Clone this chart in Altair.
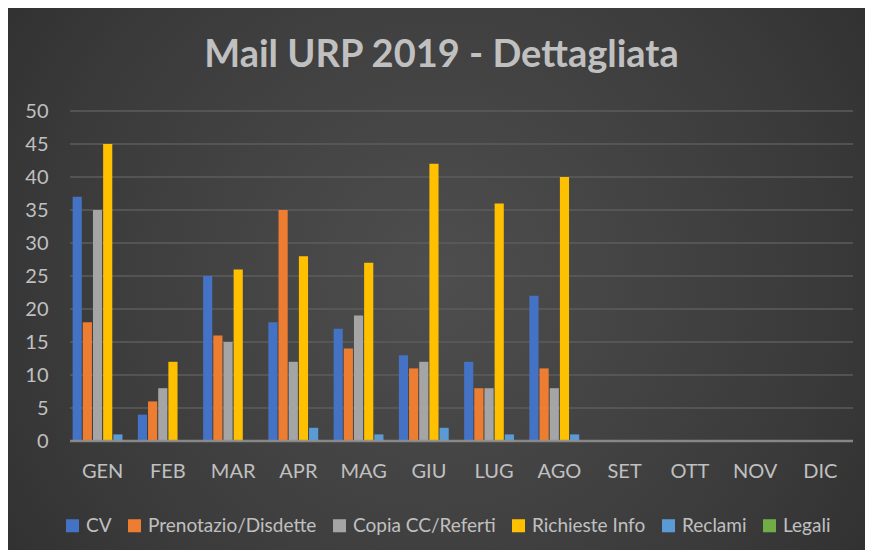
import altair as alt
import pandas as pd

months = ["GEN", "FEB", "MAR", "APR", "MAG", "GIU", "LUG", "AGO", "SET", "OTT", "NOV", "DIC"]
series = ["CV", "Prenotazio/Disdette", "Copia CC/Referti", "Richieste Info", "Reclami", "Legali"]
cv = [37, 4, 25, 18, 17, 13, 12, 22, 0, 0, 0, 0]
prenotazioni = [18, 6, 16, 35, 14, 11, 8, 11, 0, 0, 0, 0]
copia = [35, 8, 15, 12, 19, 12, 8, 8, 0, 0, 0, 0]
richieste = [45, 12, 26, 28, 27, 42, 36, 40, 0, 0, 0, 0]
reclami = [1, 0, 0, 2, 1, 2, 1, 1, 0, 0, 0, 0]
legali = [0, 0, 0, 0, 0, 0, 0, 0, 0, 0, 0, 0]
colors = ["#4472C4", "#ED7D31", "#A5A5A5", "#FFC000", "#5B9BD5", "#70AD47"]
y_ticks = [0, 5, 10, 15, 20, 25, 30, 35, 40, 45, 50]

values = [cv, prenotazioni, copia, richieste, reclami, legali]
rows = []
for s, vals in zip(series, values):
    for m, v in zip(months, vals):
        rows.append({"month": m, "series": s, "value": v})
df = pd.DataFrame(rows)

W, H = 783, 330
PAD = {"left": 62, "top": 103, "right": 12, "bottom": 109}
FONT = "Lato"
TXT = "#c0c0c0"

yscale = alt.Scale(domain=[0, 50], nice=False)
yaxis = alt.Axis(values=y_ticks, labelFont=FONT, labelFontSize=20, labelColor=TXT,
                 labelPadding=22, ticks=False, domain=False, grid=False, zindex=1)

bg = alt.Chart(pd.DataFrame({"k": [0]})).mark_rect(
    fill=alt.Gradient(
        gradient="radial",
        stops=[alt.GradientStop(color="#4e4e4e", offset=0),
               alt.GradientStop(color="#3a3a3a", offset=0.6),
               alt.GradientStop(color="#282828", offset=1)],
        x1=0.5, y1=0.5, r1=0, x2=0.5, y2=0.5, r2=0.75,
    ),
    clip=False,
).encode(
    x=alt.value(-PAD["left"]), x2=alt.value(W + PAD["right"]),
    y=alt.value(-PAD["top"]), y2=alt.value(H + PAD["bottom"]),
)

grid = alt.Chart(pd.DataFrame({"v": y_ticks[1:]})).mark_rule(
    color="#5c5c5c", strokeWidth=1.5
).encode(y=alt.Y("v:Q", scale=yscale, axis=yaxis, title=None))

bars = alt.Chart(df).mark_bar().encode(
    x=alt.X("month:N", sort=months, title=None,
            scale=alt.Scale(paddingInner=0.08, paddingOuter=0.04),
            axis=alt.Axis(labelAngle=0, labelFont=FONT, labelFontSize=20, labelColor=TXT,
                          labelPadding=20, ticks=False, domain=False, grid=False, zindex=1)),
    xOffset=alt.XOffset("series:N", sort=series, scale=alt.Scale(paddingInner=0.1)),
    y=alt.Y("value:Q", scale=yscale, title=None, axis=yaxis),
    color=alt.Color("series:N", sort=series,
                    scale=alt.Scale(domain=series, range=colors),
                    legend=alt.Legend(title=None, orient="none", legendX=-7, legendY=405,
                                      direction="horizontal", columns=6,
                                      symbolType="square", symbolSize=170, symbolStrokeWidth=0,
                                      labelFont=FONT, labelFontSize=19, labelColor=TXT,
                                      labelLimit=0, labelOffset=4, columnPadding=13, zindex=1)),
)

zero = alt.Chart(pd.DataFrame({"v": [0]})).mark_rule(
    color="#8f8f8f", strokeWidth=2.5, opacity=0.9
).encode(y=alt.Y("v:Q", scale=yscale, axis=yaxis, title=None))

chart = alt.layer(bg, grid, bars, zero).properties(
    width=W, height=H,
    padding=PAD,
    autosize=alt.AutoSizeParams(type="none"),
    background="#333333",
    title=alt.Title("Mail URP 2019 - Dettagliata", font=FONT, fontSize=38, fontWeight="bold",
                    color=TXT, anchor="middle", offset=-67, dx=-20, zindex=1),
).configure_view(stroke=None)

chart.save("out.html", embed_options={"renderer": "svg", "actions": False})
